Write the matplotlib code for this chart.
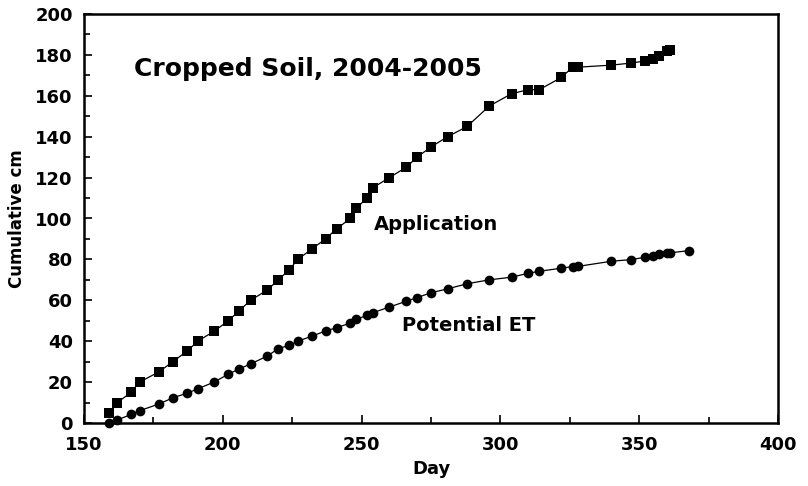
import matplotlib
matplotlib.use("Agg")
import matplotlib.pyplot as plt
from matplotlib.ticker import MultipleLocator

plt.rcParams['font.family'] = ['DejaVu Sans']
plt.rcParams['font.weight'] = 'bold'

app_days = [159, 162, 167, 170, 177, 182, 187, 191, 197, 202,
            206, 210, 216, 220, 224, 227, 232, 237, 241, 246,
            248, 252, 254, 260, 266, 270, 275, 281, 288, 296,
            304, 310, 314, 322, 326, 328, 340, 347, 352, 355,
            357, 360, 361]
application = [5, 10, 15, 20, 25, 30, 35, 40, 45, 50,
               55, 60, 65, 70, 75, 80, 85, 90, 95, 100,
               105, 110, 115, 120, 125, 130, 135, 140, 145, 155,
               161, 163, 163, 169, 174, 174, 175, 176, 177, 178,
               179.3, 181.8, 182.6]

et_days = app_days + [368]
potential_et = [0, 1.5, 4.2, 6.0, 9.3, 12.3, 14.5, 16.7, 20.1, 23.9,
                26.5, 28.9, 32.7, 36.4, 38.0, 40.0, 42.4, 45.0, 46.6, 48.9,
                50.7, 52.6, 53.9, 56.7, 59.5, 61.3, 63.7, 65.6, 68.1, 70.0,
                71.3, 73.2, 74.2, 75.7, 76.5, 76.6, 79.1, 79.9, 81.0, 81.7,
                82.5, 83.0, 83.2, 84.3]

fig = plt.figure(figsize=(8.08, 4.86), dpi=100)
ax = fig.add_axes([84/808, 1-423/486, (778-84)/808, (423-14)/486])

ax.plot(app_days, application, color='black', lw=0.9, marker='s',
        markersize=6.8, markeredgewidth=0, clip_on=False)
ax.plot(et_days, potential_et, color='black', lw=0.9, marker='o',
        markersize=7, markeredgewidth=0, clip_on=False)

ax.set_xlim(150, 400)
ax.set_ylim(0, 200)
ax.xaxis.set_major_locator(MultipleLocator(50))
ax.xaxis.set_minor_locator(MultipleLocator(25))
ax.yaxis.set_major_locator(MultipleLocator(20))
ax.yaxis.set_minor_locator(MultipleLocator(10))
ax.tick_params(which='both', direction='in', top=False, right=False,
               width=1.2)
ax.tick_params(which='major', length=6, labelsize=13)
ax.tick_params(which='minor', length=4)
ax.tick_params(axis='x', which='major', pad=9)
ax.tick_params(axis='y', which='major', pad=8)
for lab in ax.get_xticklabels() + ax.get_yticklabels():
    lab.set_fontweight('bold')
for s in ax.spines.values():
    s.set_linewidth(1.8)

ax.set_xlabel('Day', fontsize=13, fontweight='bold', labelpad=5)
ax.set_ylabel('Cumulative cm', fontsize=12, fontweight='bold', labelpad=7)

ax.text(168, 169.5, 'Cropped Soil, 2004-2005', fontsize=18, fontweight='bold',
        ha='left', va='baseline')
ax.text(254.5, 94.5, 'Application', fontsize=14, fontweight='bold',
        ha='left', va='baseline')
ax.text(264.5, 45.0, 'Potential ET', fontsize=14, fontweight='bold',
        ha='left', va='baseline')

fig.savefig('out.png', dpi=100)
